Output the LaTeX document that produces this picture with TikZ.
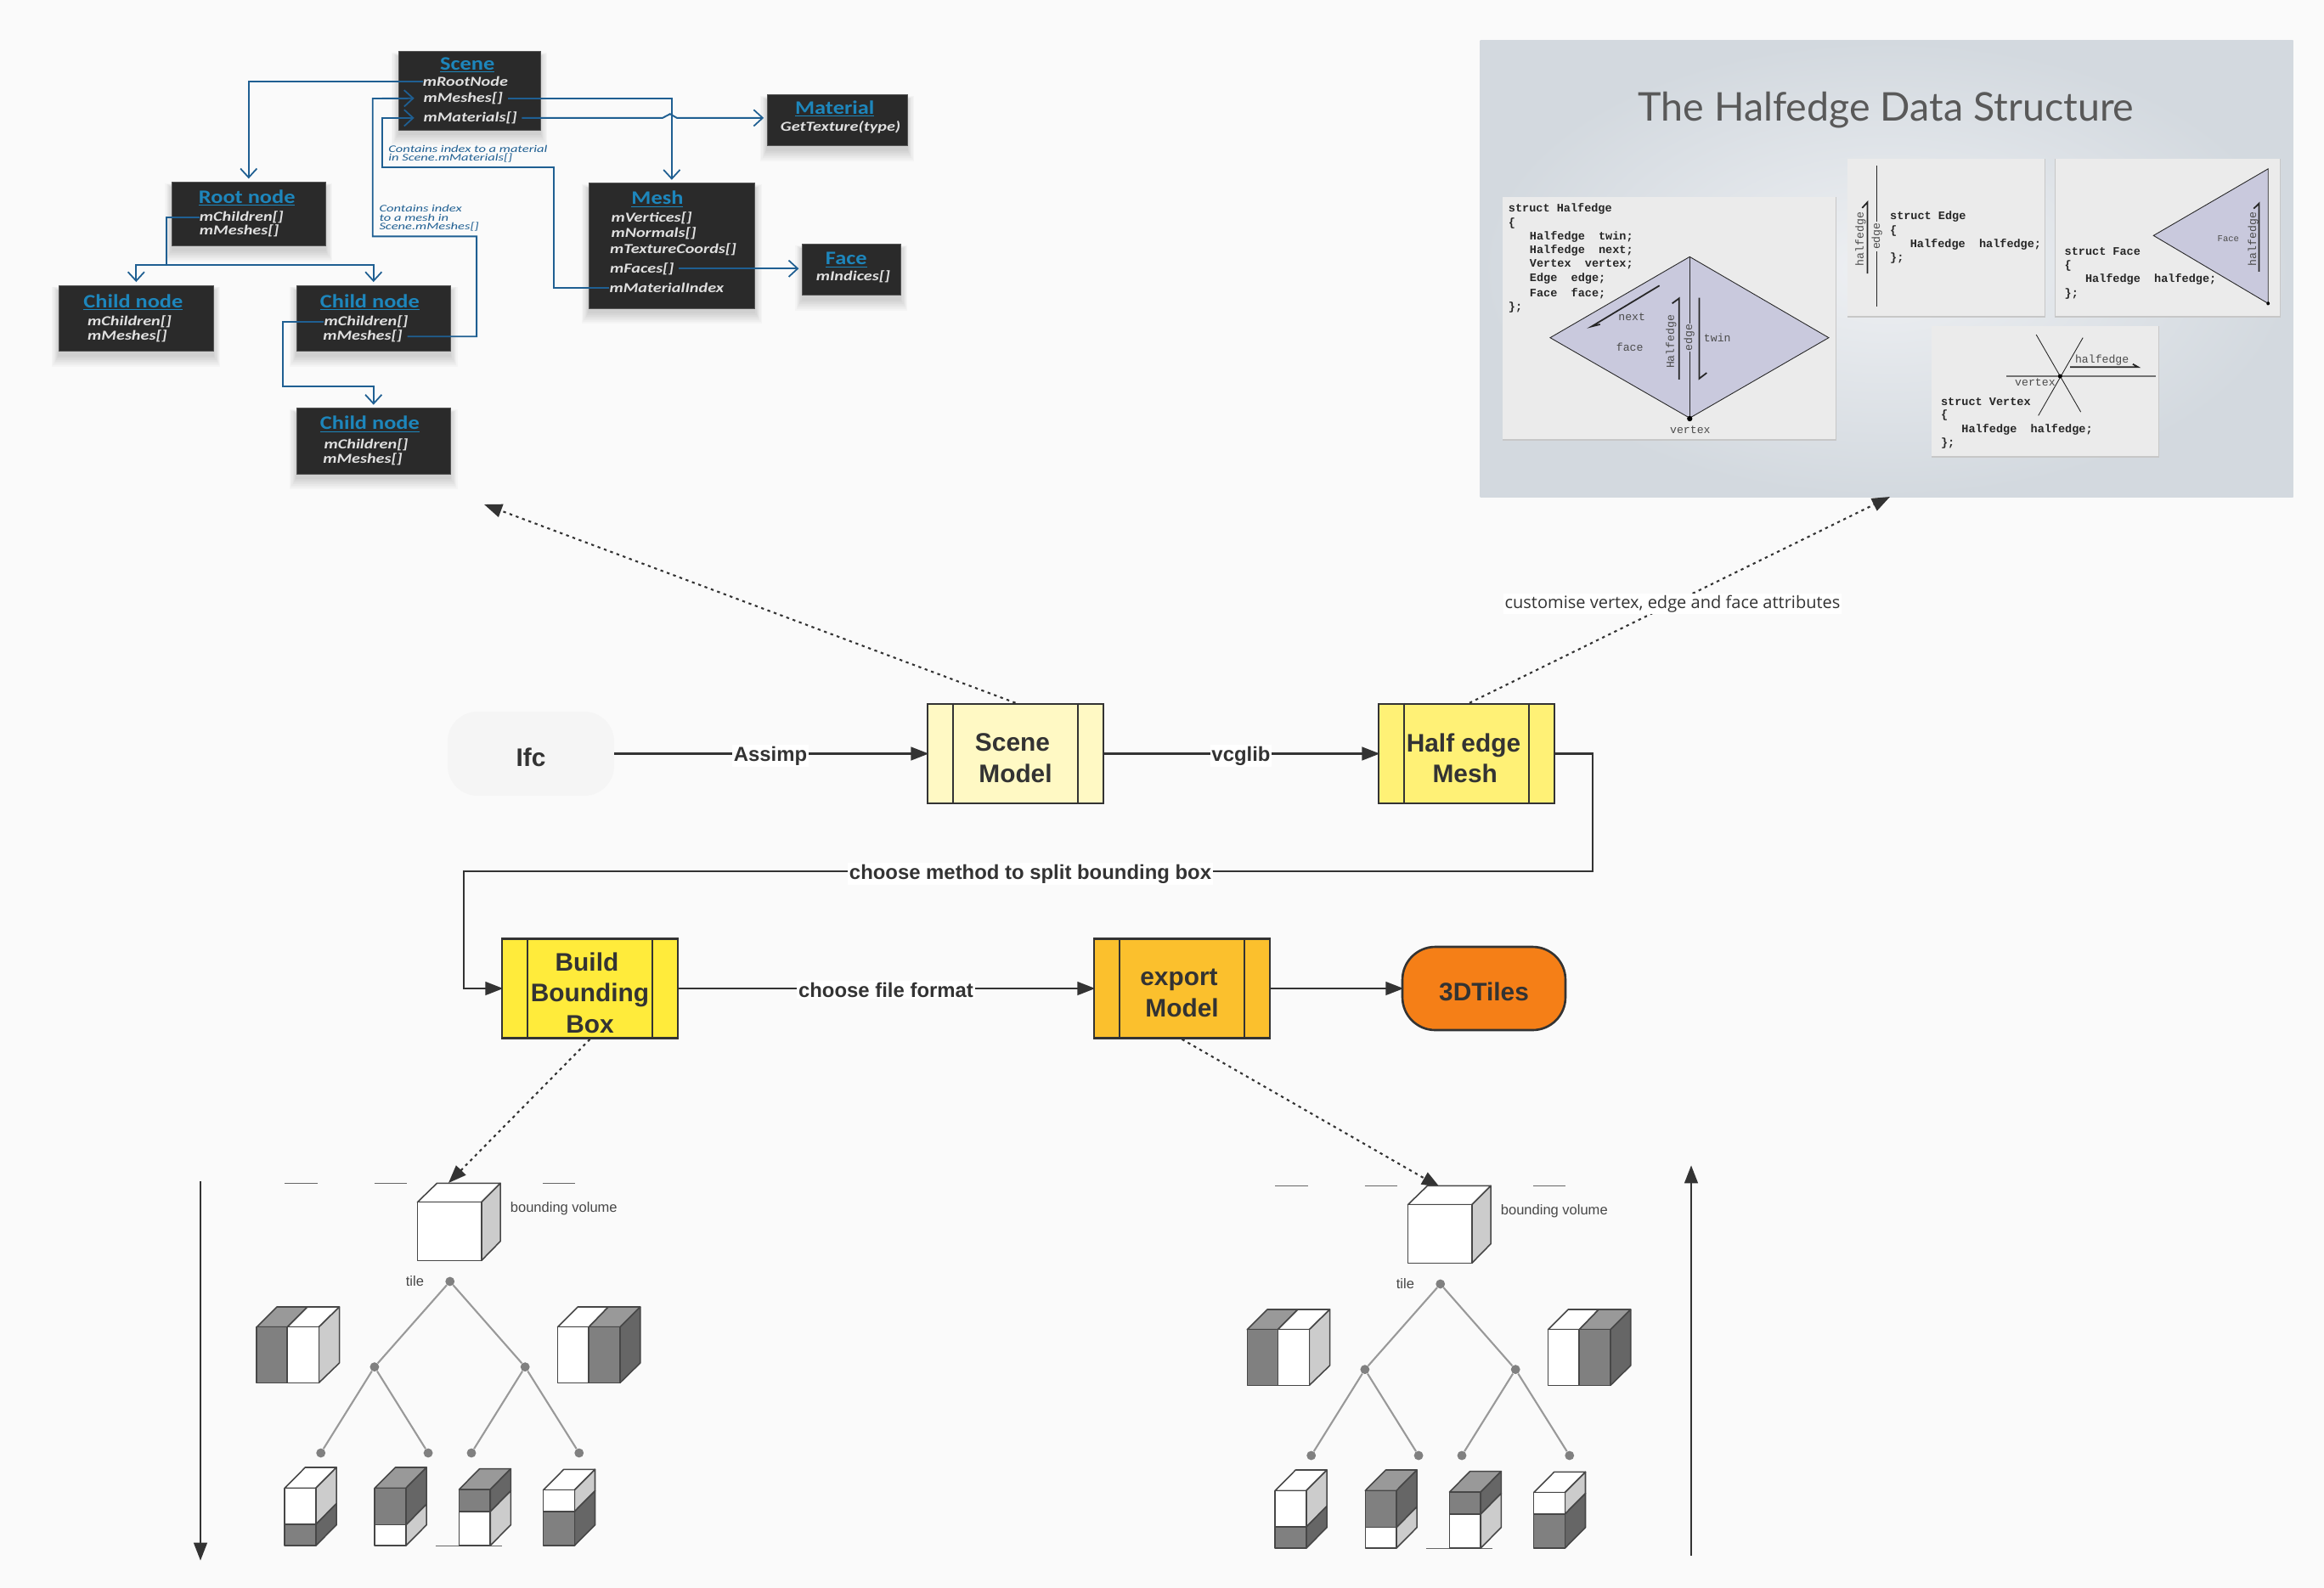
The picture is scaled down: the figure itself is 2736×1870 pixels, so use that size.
\documentclass[tikz,border=0pt]{standalone}
\usepackage{fontspec}
\usepackage{graphicx}
\setmainfont{Liberation Sans}
\newfontfamily\aspf{Carlito}
\newfontfamily\codef{Liberation Mono}
\newfontfamily\notef{Open Sans}
\newfontfamily\slidef{Lato}
\usetikzlibrary{arrows.meta,fit,calc,positioning}
\definecolor{bgc}{HTML}{FAFAFA}
\definecolor{ink}{HTML}{333333}
\definecolor{wirec}{HTML}{1F5F92}
\definecolor{titlec}{HTML}{1D86BC}
\definecolor{dbx}{HTML}{2A2A2A}
\definecolor{lila}{HTML}{C9C9DD}
\definecolor{panel}{HTML}{EBEBEB}
\definecolor{slidein}{HTML}{EEF0F3}
\definecolor{slideout}{HTML}{D3D9DF}
\newcommand\fsz[1]{\fontsize{#1}{#1}\selectfont}
\newcommand\sqi[1]{\scalebox{1}[.8]{#1}}
\newcommand\sqt[1]{\scalebox{1}[.85]{\underline{#1}}}
\newcommand\sqn[1]{\scalebox{1}[.72]{#1}}
\tikzset{
  flowbox/.style={draw=ink,line width=1.5pt,minimum width=4.14cm,minimum height=2.34cm,inner sep=0pt},
  flowtext/.style={inner sep=0pt,align=center,font=\bfseries\fontsize{17}{21}\selectfont,text=ink},
  flowarrow/.style={draw=ink,line width=1.2pt,shorten >=-1.5pt,-{Triangle[length=12pt,width=9pt]}},
  dotarrow/.style={draw=ink,line width=1.2pt,dash pattern=on 1.9pt off 2.6pt,-{Triangle[length=12pt,width=9pt]}},
  flowlabel/.style={fill=white,inner sep=1pt,font=\bfseries\fsz{13.6},text=ink},
  dbox/.style={fill=dbx,draw=dbx!80!white,line width=.4pt,inner sep=0pt},
  btitle/.style={text=titlec,font=\aspf\bfseries\fsz{15},inner sep=0pt},
  bitem/.style={anchor=west,text=white!88!black,font=\aspf\bfseries\itshape\fsz{11.5},inner sep=0pt},
  bnote/.style={anchor=west,text=wirec,font=\aspf\itshape\fsz{9.4},inner sep=0pt},
  wire/.style={draw=wirec,line width=1.1pt,line join=miter},
  wirearrow/.style={wire,-{Straight Barb[length=6pt,width=11pt,line width=1pt]}},
  codeline/.style={anchor=west,inner sep=0pt,font=\codef\bfseries\fsz{7.7},text=black!85},
  codelab/.style={inner sep=0pt,font=\codef\fsz{7.5},text=black!70},
  slideline/.style={draw=black!85,line width=.5pt},
  halfarrow/.style={draw=black!85,line width=1pt},
  panelbox/.style={fill=panel,draw=none},
  cubeline/.style={draw=black!72,line width=.9pt,line join=round},
  treedot/.style={circle,fill=black!50,inner sep=0pt,minimum size=6.2pt},
  treeline/.style={draw=black!40,line width=1.2pt},
  treetext/.style={inner sep=0pt,font=\fsz{9.4},text=black!72},
  stub/.style={draw=black!60,line width=.6pt},
}
\newcommand\darkbox[5]{%
  \foreach \k in {13,11,9,7,5,3,1}{\fill[black,opacity=.022] ({#2-0.9*\k},{#3-\k+18}) rectangle ({#4+0.9*\k},{#5+2.8*\k+14});}
  \node[dbox,fit={(#2,#3)(#4,#5)}] (#1) {};}
\newcommand\panelrect[5]{%
  \fill[black!22] ({#2-1},{#3}) rectangle ({#4+2},{#5+6});
  \node[panelbox,inner sep=0pt,fit={(#2,#3)(#4,#5)}] (#1) {};}
\newcommand\halfcube[9]{%
  \filldraw[cubeline,fill=#7] (#1,#2) -- ({#1+63},{#2-73}) -- ({#1+159},{#2-73}) -- ({#1+96},#2) -- cycle;
  \filldraw[cubeline,fill=#8] ({#1+96},#2) -- ({#1+159},{#2-73}) -- ({#1+159},{#3-73}) -- ({#1+96},#3) -- cycle;
  \filldraw[cubeline,fill=#9] ({#1+96},#3) -- ({#1+159},{#3-73}) -- ({#1+159},{#4-73}) -- ({#1+96},#4) -- cycle;
  \filldraw[cubeline,fill=#5] (#1,#2) rectangle ({#1+96},#3);
  \filldraw[cubeline,fill=#6] (#1,#3) rectangle ({#1+96},#4);}
\newcommand\cubetree[1]{%
  \draw[stub] (327,70) -- (427,70) (602,70) -- (702,70) (1120,70) -- (1220,70) (790,1352) -- (995,1352);
  % root cube
  \filldraw[cubeline,fill=white] (735,137) -- (795,70) -- (990,70) -- (932,137) -- cycle;
  \filldraw[cubeline,fill=black!20] (932,137) -- (990,70) -- (990,275) -- (932,343) -- cycle;
  \filldraw[cubeline,fill=white] (735,137) rectangle (932,343);
  \node[treetext,anchor=west] (#1bv) at (1020,160) {bounding volume};
  \node[treetext] (#1tile) at (727,415) {tile};
  % left split cube
  \filldraw[cubeline,fill=black!40] (241,578) -- (303,507) -- (397,507) -- (335,578) -- cycle;
  \filldraw[cubeline,fill=white] (335,578) -- (397,507) -- (495,507) -- (432,578) -- cycle;
  \filldraw[cubeline,fill=black!20] (432,578) -- (495,507) -- (495,705) -- (432,775) -- cycle;
  \filldraw[cubeline,fill=black!50] (241,578) rectangle (335,775);
  \filldraw[cubeline,fill=white] (335,578) rectangle (432,775);
  % right split cube
  \filldraw[cubeline,fill=white] (1166,578) -- (1228,507) -- (1322,507) -- (1262,578) -- cycle;
  \filldraw[cubeline,fill=black!40] (1262,578) -- (1322,507) -- (1420,507) -- (1358,578) -- cycle;
  \filldraw[cubeline,fill=black!60] (1358,578) -- (1420,507) -- (1420,705) -- (1358,775) -- cycle;
  \filldraw[cubeline,fill=white] (1166,578) rectangle (1262,775);
  \filldraw[cubeline,fill=black!50] (1262,578) rectangle (1358,775);
  % leaf cubes
  \halfcube{327}{1147}{1275}{1350}{white}{black!50}{white}{black!20}{black!60}
  \halfcube{604}{1147}{1277}{1350}{black!50}{white}{black!40}{black!60}{black!20}
  \halfcube{863}{1152}{1230}{1350}{black!50}{white}{black!40}{black!60}{black!20}
  \halfcube{1122}{1154}{1230}{1350}{white}{black!50}{white}{black!20}{black!60}
  % tree
  \node[treedot] (#1a) at (835,417) {};
  \node[treedot] (#1b) at (603,719) {};
  \node[treedot] (#1c) at (1066,719) {};
  \node[treedot] (#1d) at (438,1023) {};
  \node[treedot] (#1e) at (768,1023) {};
  \node[treedot] (#1f) at (901,1023) {};
  \node[treedot] (#1g) at (1232,1023) {};
  \draw[treeline] (#1a) -- (#1b);
  \draw[treeline] (#1a) -- (#1c);
  \draw[treeline] (#1b) -- (#1d);
  \draw[treeline] (#1b) -- (#1e);
  \draw[treeline] (#1c) -- (#1f);
  \draw[treeline] (#1c) -- (#1g);
}
\begin{document}
\begin{tikzpicture}[x=0.02cm,y=-0.02cm]
\fill[bgc] (0,0) rectangle (2736,1870);
\useasboundingbox (0,0) rectangle (2736,1870);

% ---------- Assimp scene structure (top left)
\begin{scope}[shift={(40,30)},x=0.013523cm,y=-0.0071429cm]
  \darkbox{scenebox}{635}{85}{882}{345}
  \darkbox{materialbox}{1277}{228}{1521}{397}
  \darkbox{rootbox}{240}{516}{508}{727}
  \darkbox{meshbox}{966}{520}{1256}{934}
  \darkbox{facebox}{1338}{720}{1510}{890}
  \darkbox{childa}{43}{857}{313}{1075}
  \darkbox{childb}{457}{857}{726}{1075}
  \darkbox{childc}{457}{1262}{726}{1480}

  \node[btitle] (tScene) at (755,130) {\sqt{Scene}};
  \node[bitem] (sRoot) at (677,185) {\sqi{mRootNode}};
  \node[bitem] (sMesh) at (678,240) {\sqi{mMeshes[]}};
  \node[bitem] (sMat) at (678,305) {\sqi{mMaterials[]}};
  \node[btitle] (tMaterial) at (1395,275) {\sqt{Material}};
  \node[bitem] (mGet) at (1300,336) {\sqi{GetTexture(type)}};
  \node[btitle] (tRoot) at (371,569) {\sqt{Root node}};
  \node[bitem] (rChild) at (288,632) {\sqi{mChildren[]}};
  \node[bitem] (rMesh) at (288,677) {\sqi{mMeshes[]}};
  \node[btitle] (tMesh) at (1086,573) {\sqt{Mesh}};
  \node[bitem] (mVert) at (1005,635) {\sqi{mVertices[]}};
  \node[bitem] (mNorm) at (1005,686) {\sqi{mNormals[]}};
  \node[bitem] (mTex) at (1003,740) {\sqi{mTextureCoords[]}};
  \node[bitem] (mFaces) at (1003,802) {\sqi{mFaces[]}};
  \node[bitem] (mIdx) at (1002,866) {\sqi{mMaterialIndex}};
  \node[btitle] (tFace) at (1415,773) {\sqt{Face}};
  \node[bitem] (fIdx) at (1362,829) {\sqi{mIndices[]}};
  \node[btitle] (tChildA) at (173,913) {\sqt{Child node}};
  \node[bitem] (aChild) at (93,978) {\sqi{mChildren[]}};
  \node[bitem] (aMesh) at (93,1026) {\sqi{mMeshes[]}};
  \node[btitle] (tChildB) at (585,913) {\sqt{Child node}};
  \node[bitem] (bChild) at (505,978) {\sqi{mChildren[]}};
  \node[bitem] (bMesh) at (503,1026) {\sqi{mMeshes[]}};
  \node[btitle] (tChildC) at (585,1315) {\sqt{Child node}};
  \node[bitem] (cChild) at (505,1384) {\sqi{mChildren[]}};
  \node[bitem] (cMesh) at (503,1432) {\sqi{mMeshes[]}};
  \node[bnote] (noteA) at (617,408) {\sqn{Contains index to a material}};
  \node[bnote] (noteB) at (617,438) {\sqn{in Scene.mMaterials[]}};
  \node[bnote] (noteC) at (601,603) {\sqn{Contains index}};
  \node[bnote] (noteD) at (601,633) {\sqn{to a mesh in}};
  \node[bnote] (noteE) at (601,664) {\sqn{Scene.mMeshes[]}};

  \draw[wirearrow,shorten >=2pt] (sRoot.west) -| (rootbox.north);
  \draw[wirearrow,shorten >=6pt] (bMesh.east) ++(8,0) -| (771,696) -| (590,241) -- (sMesh.west);
  \draw[wirearrow,shorten >=6pt] (mIdx.west) -| (906,468) -- (606,468) |- (sMat.west);
  \draw[wirearrow,shorten >=2pt] (sMesh.east) ++(8,0) -| (meshbox.north);
  \draw[wirearrow,shorten >=2pt] (sMat.east) ++(8,0) -- (1095,305) -- (1108,292) -- (1120,305) -- (materialbox.west |- sMat.east);
  \draw[wirearrow,shorten >=2pt] (rChild.west) -- (231,632) -- (231,790) -| (childa.north);
  \draw[wirearrow,shorten >=2pt] (231,790) -| (childb.north);
  \draw[wirearrow,shorten >=2pt] (bChild.west) -- (434,978) -- (434,1190) -| (childc.north);
  \draw[wirearrow,shorten >=2pt] (mFaces.east) ++(8,0) -- (facebox.west |- mFaces.east);
\end{scope}

% ---------- Halfedge slide (top right)
\begin{scope}[shift={(1730,30)},x=0.0125cm,y=-0.0071429cm]
  \shade[inner color=slidein,outer color=slideout] (20,50) rectangle (1552,1555);
  \node[inner sep=0pt,font=\slidef\fsz{26.5},text=black!65] (slideTitle) at (785,278) {The Halfedge Data Structure};
  \panelrect{p1}{63}{567}{690}{1363}
  \panelrect{p2}{713}{440}{1083}{957}
  \panelrect{p3}{1104}{440}{1527}{957}
  \panelrect{p4}{871}{993}{1298}{1420}

  % panel 1
  \filldraw[slideline,fill=lila] (415,763) -- (677,1030) -- (415,1295) -- (152,1030) -- cycle;
  \draw[slideline] (415,763) -- (415,1295);
  \fill[black] (415,1297) circle [x radius=5,y radius=9];
  \node[codeline] (h1) at (73,605) {struct Halfedge};
  \node[codeline] (h2) at (73,652) {\{};
  \node[codeline] (h3) at (113,697) {Halfedge\ \ twin;};
  \node[codeline] (h4) at (113,743) {Halfedge\ \ next;};
  \node[codeline] (h5) at (113,789) {Vertex\ \ vertex;};
  \node[codeline] (h6) at (113,836) {Edge\ \ edge;};
  \node[codeline] (h7) at (113,883) {Face\ \ face;};
  \node[codeline] (h8) at (73,930) {\};};
  \node[codelab] (hv) at (416,1333) {vertex};
  \node[codelab] (hn) at (306,960) {next};
  \node[codelab] (hf) at (302,1062) {face};
  \node[codelab] (ht) at (467,1030) {twin};
  \node[codelab,rotate=90] (hh) at (380,1043) {Halfedge};
  \node[codelab,rotate=90,fill=lila,inner sep=.5pt] (he) at (414,1030) {edge};
  \draw[halfarrow] (358,858) -- (230,993) -- (246,986);
  \draw[halfarrow] (395,1168) -- (395,900) -- (382,917);
  \draw[halfarrow] (433,898) -- (433,1165) -- (447,1146);

  % panel 2
  \draw[slideline] (768,462) -- (768,928);
  \node[codelab,rotate=90,fill=panel,inner sep=1pt] (eE) at (768,695) {edge};
  \node[codelab,rotate=90] (eH) at (737,705) {halfedge};
  \draw[halfarrow] (750,818) -- (750,583) -- (740,602);
  \node[codeline] (e1) at (792,630) {struct Edge};
  \node[codeline] (e2) at (792,677) {\{};
  \node[codeline] (e3) at (830,722) {Halfedge\ \ halfedge;};
  \node[codeline] (e4) at (792,768) {\};};

  % panel 3
  \filldraw[slideline,fill=lila] (1505,473) -- (1505,917) -- (1289,693) -- cycle;
  \fill[black] (1505,917) circle [x radius=3,y radius=6];
  \node[codelab,font=\codef\fsz{6}] (fF) at (1430,703) {Face};
  \node[codelab,rotate=90] (fH) at (1477,705) {halfedge};
  \draw[halfarrow] (1488,812) -- (1488,587) -- (1478,604);
  \node[codeline] (f1) at (1121,745) {struct Face};
  \node[codeline] (f2) at (1121,792) {\{};
  \node[codeline] (f3) at (1160,838) {Halfedge\ \ halfedge;};
  \node[codeline] (f4) at (1121,885) {\};};

  % panel 4
  \draw[draw=black!55,line width=1pt] (1012,1157) -- (1293,1157);
  \draw[slideline] (1068,1020) -- (1152,1275);
  \draw[slideline] (1156,1030) -- (1072,1287);
  \fill[black] (1113,1157) circle [x radius=4,y radius=7];
  \node[codelab] (vH) at (1192,1104) {halfedge};
  \node[codelab] (vV) at (1066,1178) {vertex};
  \draw[halfarrow] (1132,1127) -- (1260,1127) -- (1250,1117);
  \node[codeline] (v1) at (888,1240) {struct Vertex};
  \node[codeline] (v2) at (888,1287) {\{};
  \node[codeline] (v3) at (927,1332) {Halfedge\ \ halfedge;};
  \node[codeline] (v4) at (888,1378) {\};};
\end{scope}

% ---------- Flow
\node[inner sep=0pt,minimum width=3.92cm,minimum height=1.98cm,fill=black!4,rounded corners=20pt] (ifc) at (625,887.5) {};
\node[flowbox,fill={rgb,255:red,255;green,249;blue,196}] (scene) at (1195.5,887.5) {};
\node[flowbox,fill={rgb,255:red,255;green,241;blue,118}] (half) at (1726.5,887.5) {};
\node[flowbox,fill={rgb,255:red,255;green,235;blue,59}] (build) at (694.5,1164) {};
\node[flowbox,fill={rgb,255:red,251;green,192;blue,45}] (export) at (1391.5,1164) {};
\node[inner sep=0pt,draw=ink,line width=1.5pt,minimum width=3.84cm,minimum height=1.96cm,rounded corners=22pt,fill={rgb,255:red,245;green,127;blue,23}] (tiles) at (1747,1164) {};
\foreach \n in {scene,half,build,export}{
  \draw[draw=ink,line width=1.3pt] ([xshift=0.62cm]\n.north west) -- ([xshift=0.62cm]\n.south west);
  \draw[draw=ink,line width=1.3pt] ([xshift=-0.62cm]\n.north east) -- ([xshift=-0.62cm]\n.south east);
}
\node[flowtext] (ifcT) at ([yshift=-2.5pt]ifc.center) {Ifc};
\node[flowtext] (sceneT) at ([yshift=-3pt]scene.center) {Scene\hspace*{4pt}\\Model};
\node[flowtext] (halfT) at ([yshift=-3pt]half.center) {Half edge\hspace*{4pt}\\Mesh\hspace*{2pt}};
\node[flowtext] (buildT) at ([yshift=-3pt]build.center) {Build\hspace*{4pt}\\Bounding\hspace*{3pt}\\Box};
\node[flowtext] (exportT) at ([yshift=-3pt]export.center) {export\hspace*{4pt}\\Model};
\node[flowtext] (tilesT) at ([yshift=-2pt]tiles.center) {3DTiles};

\draw[flowarrow] (ifc) -- node[flowlabel,yshift=-1.5pt] (lAssimp) {Assimp} (scene);
\draw[flowarrow] (scene) -- node[flowlabel,yshift=-1.5pt] (lVcg) {vcglib} (half);
\coordinate (bendA) at (1875,1026);
\coordinate (bendB) at (546,1026);
\draw[flowarrow] (half.east) -| (bendA) -- (bendB) |- (build.west);
\node[flowlabel] (lSplit) at (1213,1029) {choose method to split bounding box};
\draw[flowarrow] (build) -- node[flowlabel,yshift=-1pt] (lFormat) {choose file format} (export);
\draw[flowarrow] (export) -- (tiles);

% dotted links
\coordinate (dotA) at (570,594);
\coordinate (dotB) at (2225,585);
\coordinate (dotC) at (528,1393);
\coordinate (dotD) at (1695,1398);
\draw[dotarrow] (scene.north) -- (dotA);
\draw[dotarrow] ([xshift=2pt]half.north) -- (dotB);
\node[inner sep=1pt,fill=white,font=\notef\fsz{11.4},text=ink] (lCustom) at (1969,711) {customise vertex, edge and face attributes};
\draw[dotarrow] (build.south) -- (dotC);
\draw[dotarrow] (export.south) -- (dotD);

% ---------- Bounding-volume trees
\begin{scope}[shift={(210,1370)},x=0.0076531cm,y=-0.0066667cm]
  \cubetree{L}
\end{scope}
\begin{scope}[shift={(1376,1373)},x=0.0076531cm,y=-0.0066667cm]
  \cubetree{R}
\end{scope}

% vertical arrows
\coordinate (vA1) at (236,1391);
\coordinate (vA2) at (236,1835);
\coordinate (vB1) at (1991,1832);
\coordinate (vB2) at (1991,1375);
\draw[flowarrow] (vA1) -- (vA2);
\draw[flowarrow] (vB1) -- (vB2);
\end{tikzpicture}
\end{document}
